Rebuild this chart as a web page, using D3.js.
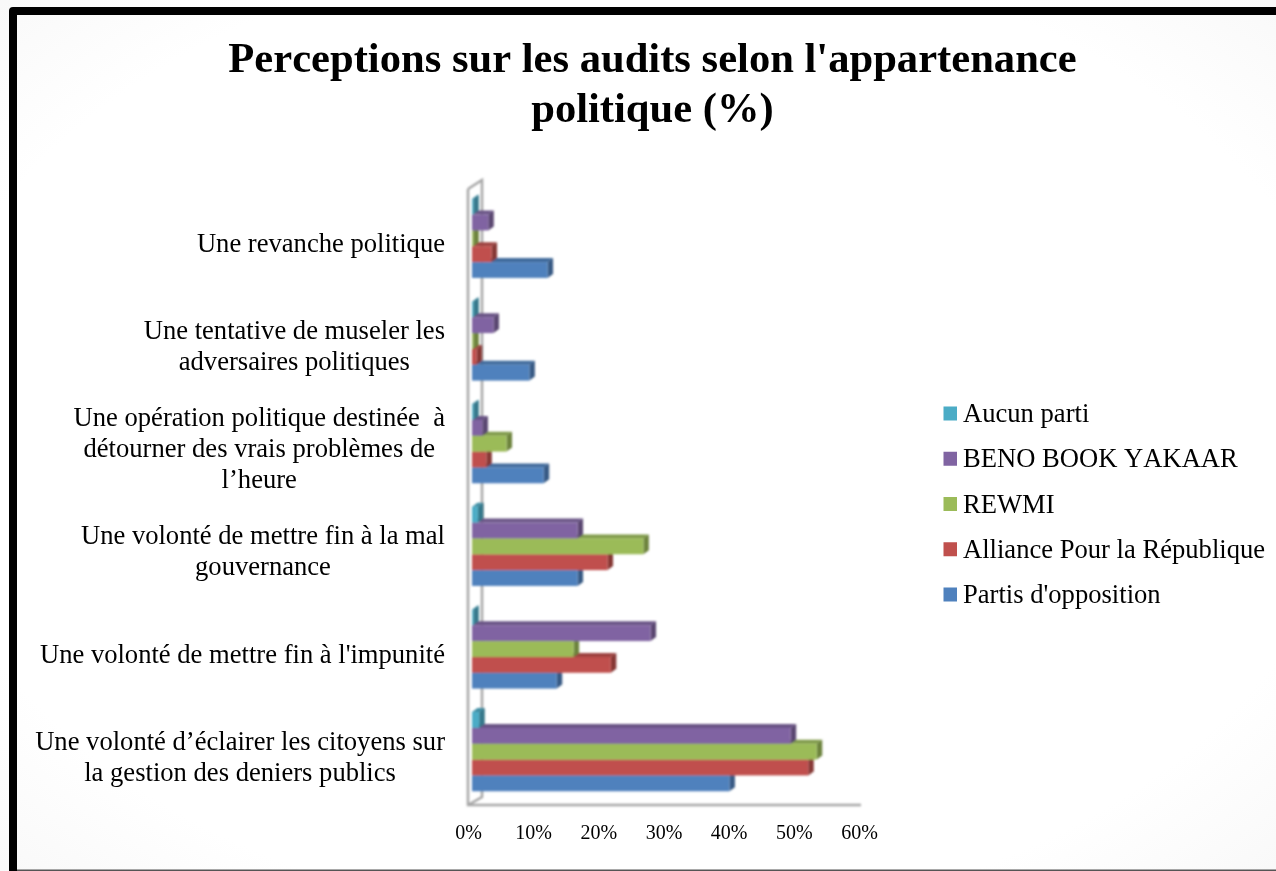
<!DOCTYPE html>
<html>
<head>
<meta charset="utf-8">
<script src="https://cdn.jsdelivr.net/npm/d3@7"></script>
<style>
  html, body { margin: 0; padding: 0; background: #fff; overflow: hidden; }
  text { font-family: "Liberation Serif", serif; fill: #000; font-kerning: none; }
</style>
</head>
<body>
<svg width="1276" height="871"></svg>
<script>
"use strict";

// categories run from the bottom of the chart to the top, each line is one row of the label
const categories = [
  ["Une volonté d’éclairer les citoyens sur", "la gestion des deniers publics"],
  ["Une volonté de mettre fin à l'impunité"],
  ["Une volonté de mettre fin à la mal", "gouvernance"],
  ["Une opération politique destinée  à", "détourner des vrais problèmes de", "l’heure"],
  ["Une tentative de museler les", "adversaires politiques"],
  ["Une revanche politique"],
];

const partisOpposition = [39.5, 13.0, 16.2, 11.0, 8.8, 11.6];
const alliance = [51.6, 21.3, 20.8, 2.2, 0.7, 3.0];
const rewmi = [52.9, 15.6, 26.3, 5.3, 0.2, 0.2];
const benoBook = [48.9, 27.4, 16.2, 1.6, 3.3, 2.5];
const aucunParti = [1.1, 0.2, 0.9, 0.2, 0.2, 0.2];

const seriesNames = ["Partis d'opposition", "Alliance Pour la République", "REWMI", "BENO BOOK YAKAAR", "Aucun parti"];
const seriesValues = [partisOpposition, alliance, rewmi, benoBook, aucunParti];
const seriesColors = ["#4f81bd", "#c0504d", "#9bbb59", "#8064a2", "#4bacc6"];
const xTicks = [0, 10, 20, 30, 40, 50, 60];
const titleLines = ["Perceptions sur les audits selon l'appartenance", "politique (%)"];

const svg = d3.select("svg");
const defs = svg.append("defs");

const bg = defs.append("radialGradient").attr("id", "paper").attr("cx", "50%").attr("cy", "50%").attr("r", "75%");
bg.append("stop").attr("offset", "75%").attr("stop-color", "#ffffff");
bg.append("stop").attr("offset", "100%").attr("stop-color", "#f7f7f7");

defs.append("filter").attr("id", "soft").append("feGaussianBlur").attr("stdDeviation", 0.9);
defs.append("filter").attr("id", "softText").append("feGaussianBlur").attr("stdDeviation", 0.35);

// slide frame: the picture is cut at the right, only a thin line is left at the bottom
svg.append("rect").attr("width", 1276).attr("height", 871).attr("fill", "url(#paper)");
svg.append("path")
  .attr("d", "M13,871 L13,11 L1280,11")
  .attr("fill", "none")
  .attr("stroke", "#000").attr("stroke-width", 8)
  .attr("stroke-linejoin", "round");
svg.append("rect").attr("x", 17).attr("y", 869.5).attr("width", 1259).attr("height", 1.5).attr("fill", "#555");

const textLayer = svg.append("g").attr("filter", "url(#softText)");

// title
textLayer.append("g").selectAll("text").data(titleLines).join("text")
  .attr("x", 652.5)
  .attr("y", (d, i) => 72 + i * 50)
  .attr("text-anchor", "middle")
  .attr("font-size", 42.6)
  .attr("font-weight", "bold")
  .text((d) => d);

// scales
const depth = { x: 5.5, y: 4 };
const wallDepth = { x: 14, y: 8 };
const floorY = 805;
const x = d3.scaleLinear().domain([0, 60]).range([468, 859]);
const y0 = d3.scaleBand()
  .domain(d3.range(categories.length))
  .range([floorY - 2, 187]);
const y1 = d3.scaleBand()
  .domain(d3.range(seriesNames.length))
  .range([y0.bandwidth(), 0])
  .paddingOuter(0.74)
  .paddingInner(0);
const barStart = x(0) + 4;
const barEnd = (v) => barStart + (x(v) - x(0));

// the 3d wall and floor
const wall = svg.append("g")
  .attr("filter", "url(#soft)")
  .attr("fill", "none")
  .attr("stroke", "#a6a6a6")
  .attr("stroke-width", 2.5);
const topY = 189;
wall.append("path").attr("d", d3.line()([
  [x(0), topY], [x(0), floorY], [861, floorY],
]));
wall.append("path").attr("d", d3.line()([
  [x(0), topY], [x(0) + wallDepth.x, topY - wallDepth.y - 1], [x(0) + wallDepth.x, floorY - wallDepth.y],
  [x(0), floorY],
]));

// bars, bottom series first so the upper one sits on the lower one
const bars = svg.append("g").attr("filter", "url(#soft)");
seriesNames.forEach((name, s) => {
  const color = d3.color(seriesColors[s]);
  const g = bars.append("g").attr("class", "series");
  seriesValues[s].forEach((v, c) => {
    const top = y0(c) + y1(s);
    const h = y1.bandwidth();
    const x1 = barEnd(v);
    g.append("path")
      .attr("fill", color.darker(0.55))
      .attr("d", d3.line()([
        [barStart, top], [barStart + depth.x, top - depth.y], [x1 + depth.x, top - depth.y], [x1, top],
      ]));
    g.append("path")
      .attr("fill", color.darker(1))
      .attr("d", d3.line()([
        [x1, top], [x1 + depth.x, top - depth.y], [x1 + depth.x, top + h - depth.y], [x1, top + h],
      ]));
    g.append("rect")
      .attr("x", barStart).attr("y", top)
      .attr("width", x1 - barStart).attr("height", h)
      .attr("fill", color);
  });
});

// x axis labels
const axis = textLayer.append("g")
  .attr("transform", "translate(0, 825)")
  .call(d3.axisBottom(x).tickValues(xTicks).tickSize(0).tickPadding(0).tickFormat((d) => d + "%"));
axis.select(".domain").remove();
axis.selectAll("text")
  .attr("font-family", "Liberation Serif")
  .attr("font-size", 20)
  .attr("fill", "#000");

// category labels, lines centred on the widest line, block flush right
const labelRight = 445;
const lineHeight = 30.7;
const labels = textLayer.append("g");
categories.forEach((lines, c) => {
  const centre = y0(c) + y0.bandwidth() / 2 + 5.5;
  const g = labels.append("g");
  const texts = g.selectAll("text").data(lines).join("text")
    .attr("y", (d, i) => centre + (i - (lines.length - 1) / 2) * lineHeight + 8)
    .attr("font-size", 26.6)
    .attr("xml:space", "preserve")
    .style("white-space", "pre")
    .text((d) => d);
  const widest = d3.max(texts.nodes(), (n) => n.getComputedTextLength());
  texts.attr("x", labelRight - widest / 2).attr("text-anchor", "middle");
});

// legend
const legendY = d3.scalePoint()
  .domain(d3.range(seriesNames.length))
  .range([594.5, 413.5]);
const legend = svg.append("g").selectAll("g").data(seriesNames).join("g")
  .attr("transform", (d, i) => `translate(943.5, ${legendY(i)})`);
legend.append("rect")
  .attr("x", 0).attr("y", -7).attr("width", 13.5).attr("height", 14)
  .attr("fill", (d, i) => seriesColors[i]);
legend.append("text")
  .attr("x", 19.5).attr("y", 8.5)
  .attr("font-size", 26.6)
  .attr("filter", "url(#softText)")
  .text((d) => d);
</script>
</body>
</html>
